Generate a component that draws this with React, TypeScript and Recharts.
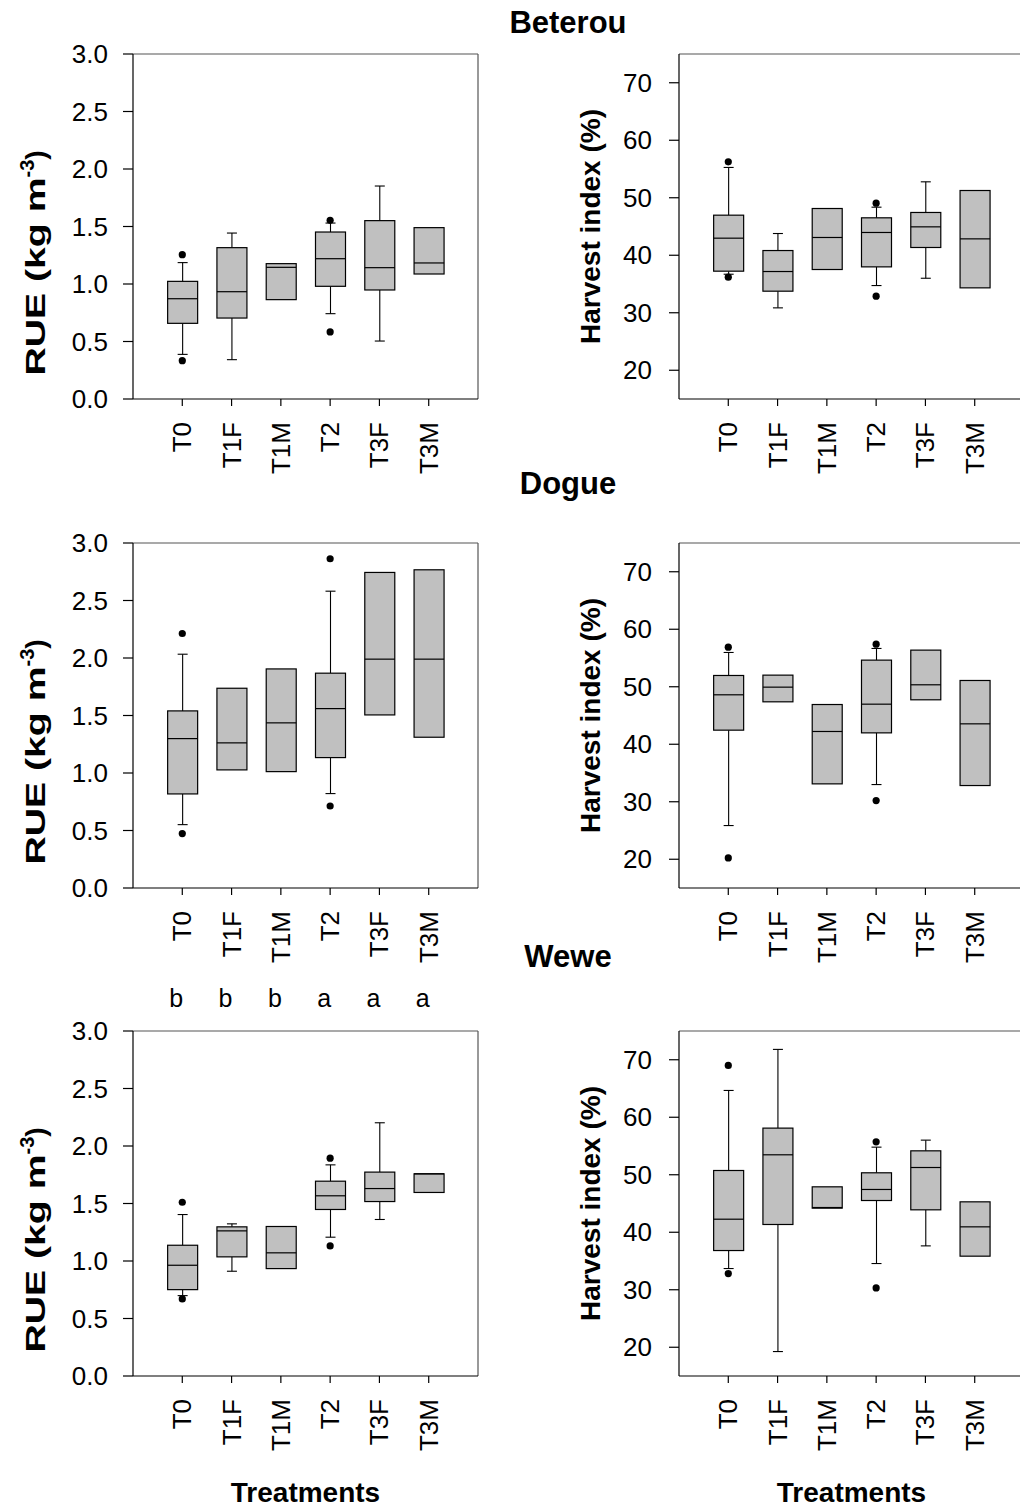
import React from 'react';
import { ComposedChart, Bar, XAxis, YAxis, ReferenceLine, ReferenceDot } from 'recharts';

const FONT = '"Liberation Sans", Arial, Helvetica, sans-serif';

const treatments = ['T0', 'T1F', 'T1M', 'T2', 'T3F', 'T3M'];
const treatmentPos = [1, 2, 3, 4, 5, 6];
const rueTicks = [0, 0.5, 1, 1.5, 2, 2.5, 3];
const hiTicks = [20, 30, 40, 50, 60, 70];
const siteTitles = ['Beterou', 'Dogue', 'Wewe'];
const weweRueLetters = ['b', 'b', 'b', 'a', 'a', 'a'];

// Beterou - RUE
const betRueLow = [0.388, 0.342, 0.864, 0.742, 0.504, 1.087];
const betRueQ1 = [0.658, 0.704, 0.864, 0.98, 0.948, 1.087];
const betRueMed = [0.872, 0.933, 1.145, 1.22, 1.142, 1.183];
const betRueQ3 = [1.023, 1.316, 1.177, 1.452, 1.551, 1.49];
const betRueHigh = [1.186, 1.443, 1.177, 1.53, 1.852, 1.49];
const betRueOut = [[1.255, 0.333], [], [], [1.554, 0.583], [], []];

// Beterou - Harvest index
const betHiLow = [36.7, 30.85, 37.52, 34.73, 36.0, 34.33];
const betHiQ1 = [37.23, 33.75, 37.52, 37.98, 41.35, 34.33];
const betHiMed = [42.97, 37.17, 43.09, 43.96, 44.94, 42.85];
const betHiQ3 = [46.97, 40.82, 48.13, 46.51, 47.44, 51.26];
const betHiHigh = [55.27, 43.78, 48.13, 48.36, 52.77, 51.26];
const betHiOut = [[56.25, 36.18], [], [], [49.06, 32.88], [], []];

// Dogue - RUE
const dogRueLow = [0.551, 1.027, 1.012, 0.821, 1.505, 1.311];
const dogRueQ1 = [0.818, 1.027, 1.012, 1.134, 1.505, 1.311];
const dogRueMed = [1.299, 1.262, 1.436, 1.56, 1.99, 1.99];
const dogRueQ3 = [1.54, 1.737, 1.905, 1.868, 2.744, 2.767];
const dogRueHigh = [2.033, 1.737, 1.905, 2.581, 2.744, 2.767];
const dogRueOut = [[2.213, 0.473], [], [], [2.863, 0.713], [], []];

// Dogue - Harvest index
const dogHiLow = [25.86, 47.38, 33.11, 32.99, 47.73, 32.82];
const dogHiQ1 = [42.45, 47.38, 33.11, 41.98, 47.73, 32.82];
const dogHiMed = [48.6, 49.93, 42.22, 46.97, 50.34, 43.55];
const dogHiQ3 = [51.96, 52.02, 46.91, 54.63, 56.37, 51.09];
const dogHiHigh = [55.96, 52.02, 46.91, 56.66, 56.37, 51.09];
const dogHiOut = [[56.89, 20.23], [], [], [57.41, 30.21], [], []];

// Wewe - RUE
const wewRueLow = [0.699, 0.911, 0.934, 1.207, 1.361, 1.596];
const wewRueQ1 = [0.751, 1.036, 0.934, 1.448, 1.517, 1.596];
const wewRueMed = [0.963, 1.262, 1.071, 1.567, 1.63, 1.758];
const wewRueQ3 = [1.137, 1.297, 1.3, 1.694, 1.773, 1.758];
const wewRueHigh = [1.404, 1.323, 1.3, 1.836, 2.202, 1.758];
const wewRueOut = [[1.511, 0.67], [], [], [1.894, 1.131], [], []];

// Wewe - Harvest index
const wewHiLow = [33.69, 19.25, 44.19, 34.56, 37.63, 35.84];
const wewHiQ1 = [36.82, 41.35, 44.19, 45.52, 43.9, 35.84];
const wewHiMed = [42.27, 53.47, 44.3, 47.44, 51.26, 40.94];
const wewHiQ3 = [50.74, 58.11, 47.9, 50.34, 54.16, 45.29];
const wewHiHigh = [64.66, 71.8, 47.9, 54.8, 56.02, 45.29];
const wewHiOut = [[69.01, 32.82], [], [], [55.73, 30.32], [], []];

type Stats = {
  low: number[];
  q1: number[];
  med: number[];
  q3: number[];
  high: number[];
  out: number[][];
};

const buildRows = (s: Stats) =>
  treatments.map((t, i) => ({
    x: treatmentPos[i],
    name: t,
    low: s.low[i],
    q1: s.q1[i],
    med: s.med[i],
    q3: s.q3[i],
    high: s.high[i],
    range: [Math.min(s.low[i], s.q1[i]), Math.max(s.high[i], s.q3[i])],
  }));

const BoxShape = (props: any) => {
  const { x, y, width, height, payload } = props;
  if (!payload) return null;
  const [lo, hi] = payload.range;
  const top = Math.min(y, y + height);
  const h = Math.abs(height);
  const k = hi - lo > 0 ? h / (hi - lo) : 0;
  const py = (v: number) => top + (hi - v) * k;
  const cx = x + width / 2;
  const cap = 5;
  const els: any[] = [];
  if (payload.high > payload.q3 + 1e-9) {
    els.push(<line key="wu" x1={cx} x2={cx} y1={py(payload.high)} y2={py(payload.q3)} stroke="#000" strokeWidth={1.1} />);
    els.push(<line key="cu" x1={cx - cap} x2={cx + cap} y1={py(payload.high)} y2={py(payload.high)} stroke="#000" strokeWidth={1.1} />);
  }
  if (payload.low < payload.q1 - 1e-9) {
    els.push(<line key="wl" x1={cx} x2={cx} y1={py(payload.q1)} y2={py(payload.low)} stroke="#000" strokeWidth={1.1} />);
    els.push(<line key="cl" x1={cx - cap} x2={cx + cap} y1={py(payload.low)} y2={py(payload.low)} stroke="#000" strokeWidth={1.1} />);
  }
  return (
    <g>
      {els}
      <rect
        x={x}
        y={py(payload.q3)}
        width={width}
        height={Math.max(0, py(payload.q1) - py(payload.q3))}
        fill="#c0c0c0"
        stroke="#000"
        strokeWidth={1.2}
      />
      <line x1={x} x2={x + width} y1={py(payload.med)} y2={py(payload.med)} stroke="#000" strokeWidth={1.2} />
    </g>
  );
};

const XTick = (props: any) => {
  const { x, y, payload } = props;
  const label = treatments[treatmentPos.indexOf(payload.value)];
  return (
    <text
      x={x}
      y={y}
      transform={`rotate(-90, ${x}, ${y})`}
      textAnchor="end"
      dominantBaseline="central"
      fontSize={26}
      fontFamily={FONT}
      fill="#000"
    >
      {label}
    </text>
  );
};

const RueLabel = (props: any) => {
  const vb = props.viewBox || { x: 0, y: 0, width: 0, height: 0 };
  const cx = vb.x + 45;
  const cy = vb.y + vb.height / 2 + 149;
  return (
    <text
      x={cx}
      y={cy}
      transform={`rotate(-90, ${cx}, ${cy})`}
      textAnchor="start"
      fontSize={28}
      fontWeight="bold"
      fontFamily={FONT}
      fill="#000"
    >
      <tspan textLength={198} lengthAdjust="spacingAndGlyphs">RUE (kg m</tspan>
      <tspan dy={-11} fontSize={20}>-3</tspan>
      <tspan dy={11}>)</tspan>
    </text>
  );
};

const HiLabel = (props: any) => {
  const vb = props.viewBox || { x: 0, y: 0, width: 0, height: 0 };
  const cx = vb.x + 54;
  const cy = vb.y + vb.height / 2;
  return (
    <text
      x={cx}
      y={cy}
      transform={`rotate(-90, ${cx}, ${cy})`}
      textAnchor="middle"
      fontSize={28}
      fontWeight="bold"
      fontFamily={FONT}
      fill="#000"
    >
      Harvest index (%)
    </text>
  );
};

const TreatLabel = (props: any) => {
  const vb = props.viewBox || { x: 0, y: 0, width: 0, height: 0 };
  return (
    <text
      x={vb.x + vb.width / 2}
      y={vb.y + 126}
      textAnchor="middle"
      fontSize={28}
      fontWeight="bold"
      fontFamily={FONT}
      fill="#000"
    >
      Treatments
    </text>
  );
};

type PanelProps = {
  left: number;
  top: number;
  kind: 'rue' | 'hi';
  stats: Stats;
  bottomRow?: boolean;
  letters?: string[];
};

const Panel = ({ left, top, kind, stats, bottomRow, letters }: PanelProps) => {
  const rows = buildRows(stats);
  const isRue = kind === 'rue';
  const domain = isRue ? [0, 3] : [15, 75];
  const ticks = isRue ? rueTicks : hiTicks;
  const yMax = domain[1];
  const xAxisHeight = bottomRow ? 132 : 85;
  const chartH = 54 + 345 + xAxisHeight;
  const outliers: { x: number; y: number }[] = [];
  stats.out.forEach((list, i) => list.forEach((v) => outliers.push({ x: treatmentPos[i], y: v })));
  return (
    <div style={{ position: 'absolute', left, top }}>
      <ComposedChart
        width={500}
        height={chartH}
        data={rows}
        margin={{ top: 54, right: 22, left: 0, bottom: 0 }}
      >
        <XAxis
          dataKey="x"
          type="number"
          domain={[0, 7]}
          ticks={treatmentPos}
          interval={0}
          height={xAxisHeight}
          tickSize={7}
          tickMargin={16}
          tick={<XTick />}
          stroke="#000"
          axisLine={{ stroke: '#000', strokeWidth: 1.2 }}
          tickLine={{ stroke: '#000', strokeWidth: 1.2 }}
          allowDataOverflow
          label={bottomRow ? <TreatLabel /> : undefined}
        />
        <YAxis
          type="number"
          domain={domain}
          ticks={ticks}
          interval={0}
          width={133}
          tickSize={10}
          tickMargin={isRue ? 15 : 17}
          tickFormatter={(v: number) => (isRue ? v.toFixed(1) : String(v))}
          tick={{ fontSize: 26, fill: '#000', fontFamily: FONT }}
          axisLine={{ stroke: '#000', strokeWidth: 1.2 }}
          tickLine={{ stroke: '#000', strokeWidth: 1.2 }}
          allowDataOverflow
          label={isRue ? <RueLabel /> : <HiLabel />}
        />
        <ReferenceLine y={yMax} stroke="#555" strokeWidth={1.2} ifOverflow="extendDomain" />
        <ReferenceLine x={7} stroke="#555" strokeWidth={1.2} ifOverflow="extendDomain" />
        <Bar dataKey="range" barSize={30} isAnimationActive={false} shape={(p: any) => <BoxShape {...p} />} />
        {outliers.map((o, i) => (
          <ReferenceDot key={`o${i}`} x={o.x} y={o.y} r={3.6} fill="#000" stroke="none" ifOverflow="visible" />
        ))}
        {letters &&
          letters.map((l, i) => (
            <ReferenceDot
              key={`l${i}`}
              x={treatmentPos[i]}
              y={yMax}
              r={1}
              fill="none"
              stroke="none"
              ifOverflow="visible"
              label={(lp: any) => {
                const vb = lp.viewBox || { x: 0, y: 0, width: 0, height: 0 };
                return (
                  <text
                    x={vb.x + (vb.width || 0) / 2 - 6}
                    y={vb.y + (vb.height || 0) / 2 - 24}
                    textAnchor="middle"
                    fontSize={25}
                    fontFamily={FONT}
                    fill="#000"
                  >
                    {l}
                  </text>
                );
              }}
            />
          ))}
      </ComposedChart>
    </div>
  );
};

const betRue: Stats = { low: betRueLow, q1: betRueQ1, med: betRueMed, q3: betRueQ3, high: betRueHigh, out: betRueOut };
const betHi: Stats = { low: betHiLow, q1: betHiQ1, med: betHiMed, q3: betHiQ3, high: betHiHigh, out: betHiOut };
const dogRue: Stats = { low: dogRueLow, q1: dogRueQ1, med: dogRueMed, q3: dogRueQ3, high: dogRueHigh, out: dogRueOut };
const dogHi: Stats = { low: dogHiLow, q1: dogHiQ1, med: dogHiMed, q3: dogHiQ3, high: dogHiHigh, out: dogHiOut };
const wewRue: Stats = { low: wewRueLow, q1: wewRueQ1, med: wewRueMed, q3: wewRueQ3, high: wewRueHigh, out: wewRueOut };
const wewHi: Stats = { low: wewHiLow, q1: wewHiQ1, med: wewHiMed, q3: wewHiQ3, high: wewHiHigh, out: wewHiOut };

export default function App() {
  return (
    <div
      style={{
        position: 'absolute',
        left: 0,
        top: 0,
        width: 1020,
        height: 1508,
        overflow: 'hidden',
        background: '#fff',
      }}
    >
      <Panel left={0} top={0} kind="rue" stats={betRue} />
      <Panel left={546} top={0} kind="hi" stats={betHi} />
      <Panel left={0} top={489} kind="rue" stats={dogRue} />
      <Panel left={546} top={489} kind="hi" stats={dogHi} />
      <Panel left={0} top={977} kind="rue" stats={wewRue} bottomRow letters={weweRueLetters} />
      <Panel left={546} top={977} kind="hi" stats={wewHi} bottomRow />
      <svg
        width={1020}
        height={1508}
        style={{ position: 'absolute', left: 0, top: 0, pointerEvents: 'none' }}
      >
        {siteTitles.map((t, i) => (
          <text
            key={t}
            x={568}
            y={[33, 494, 967][i]}
            textAnchor="middle"
            fontSize={31}
            fontWeight="bold"
            fontFamily={FONT}
            fill="#000"
          >
            {t}
          </text>
        ))}
      </svg>
    </div>
  );
}
